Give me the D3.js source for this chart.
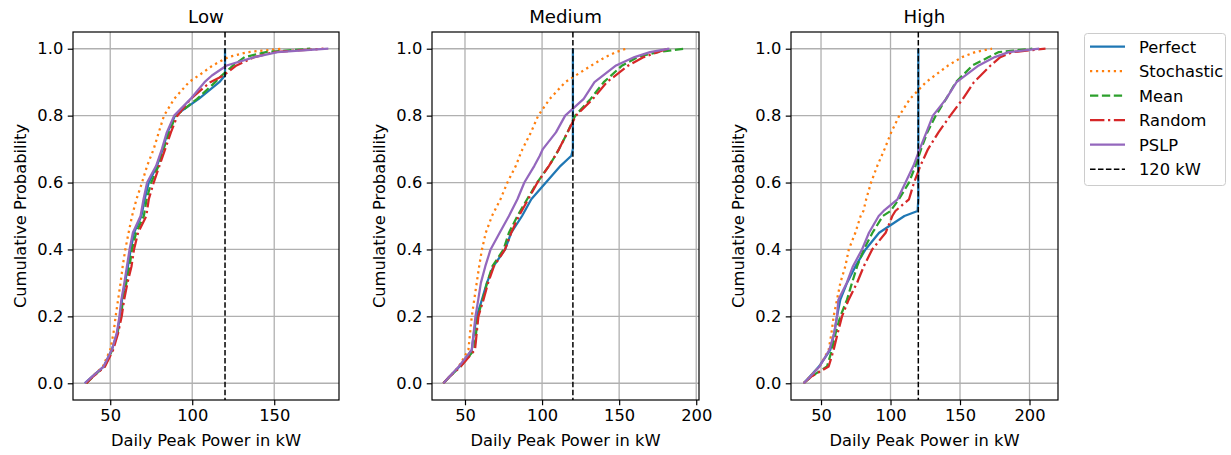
<!DOCTYPE html>
<html>
<head>
<meta charset="utf-8">
<script src="https://cdn.jsdelivr.net/npm/d3@7"></script>
<style>
  body { margin: 0; background: #fff; }
  svg { font-family: "DejaVu Sans", sans-serif; }
</style>
</head>
<body>
<svg id="chart" width="1231" height="455"></svg>
<script>
// cumulative probability levels at which the curves were read (one per panel)
var lowLevels    = [0, 0.02, 0.05, 0.1, 0.15, 0.2, 0.25, 0.3, 0.35, 0.4, 0.45, 0.5, 0.55, 0.6, 0.65, 0.7, 0.75, 0.8, 0.85, 0.9, 0.92, 0.95, 0.975, 0.99, 1];
var mediumLevels = [0, 0.02, 0.05, 0.1, 0.15, 0.2, 0.25, 0.3, 0.35, 0.4, 0.45, 0.5, 0.55, 0.6, 0.65, 0.68, 0.7, 0.75, 0.8, 0.85, 0.9, 0.95, 0.975, 0.99, 1];
var highLevels   = [0, 0.02, 0.05, 0.1, 0.15, 0.2, 0.25, 0.3, 0.35, 0.4, 0.45, 0.5, 0.515, 0.55, 0.6, 0.65, 0.7, 0.75, 0.8, 0.85, 0.9, 0.95, 0.975, 0.99, 1];

// daily peak power (kW) at those levels
var lowPerfect    = [34.5, 39, 46, 51, 54.2, 56, 57.2, 59, 60.8, 62.5, 64.5, 69, 71, 73.5, 78.5, 82, 85, 89.5, 104, 116.5, 120, 120, 120, 120, 120];
var lowStochastic = [35, 39, 45.5, 50, 52, 53.3, 54.8, 56.3, 57.6, 59.2, 61.2, 63.3, 66, 69.4, 72.5, 76.5, 79.6, 82.8, 89, 98, 104, 112.5, 122, 134, 155];
var lowMean       = [35.5, 39.5, 46.5, 51.3, 54.4, 56.5, 57.8, 59.8, 61.8, 63.3, 65.8, 70.5, 72.2, 75, 79.5, 82.5, 86, 90, 103, 114, 118, 125, 132, 145, 172];
var lowRandom     = [35.5, 39.5, 46.8, 51.8, 54.8, 57, 58.5, 60.5, 63, 64.5, 67, 72, 73.5, 76.5, 80, 83.5, 87, 91, 99, 111, 119, 127, 138, 150, 180];
var lowPSLP       = [34.5, 39, 46, 51, 54, 55.6, 56.8, 58.6, 60.2, 61.8, 63.8, 68.5, 70.3, 72.5, 78, 81.5, 84.5, 89, 99, 107.5, 112, 121, 138, 152, 183];

var mediumPerfect    = [36, 40, 46.5, 54.4, 55.8, 57.6, 61, 64.2, 68.5, 76, 80, 87, 93, 102.5, 112, 119, 120, 120, 120, 120, 120, 120, 120, 120, 120];
var mediumStochastic = [36, 40, 46, 52.2, 53.3, 54.4, 56, 57.6, 59.2, 61, 63.5, 67.5, 73, 77.5, 83, 85.5, 87.3, 92.8, 97.5, 105, 115, 132, 141, 148, 154.4];
var mediumMean       = [36, 40, 47, 56, 57.2, 58.3, 61.5, 64.3, 67.8, 75, 78.5, 84, 90.3, 96.8, 104.5, 108.5, 111, 116.5, 121.5, 131.5, 140, 152, 162, 175, 192.5];
var mediumRandom     = [36, 40, 47.2, 56.5, 57.6, 58.7, 62, 65, 68.8, 76, 80, 85, 91, 97, 104.5, 108.5, 111, 116.5, 122, 133, 142, 156, 166, 175, 181.6];
var mediumPSLP       = [36, 40, 46, 54.4, 55.6, 56.8, 58.6, 60.3, 63.2, 66.6, 72.5, 78.5, 84, 88.5, 95, 98.5, 100.5, 109, 115, 127, 134, 148, 160, 170, 182.6];

var highPerfect    = [37.5, 42, 48.5, 56.7, 59.5, 61.5, 63.9, 68.7, 74.8, 82, 91.8, 110, 119.5, 120, 120, 120, 120, 120, 120, 120, 120, 120, 120, 120, 120];
var highStochastic = [37.5, 42, 49, 55.5, 57.5, 59.1, 61.5, 63.9, 67.5, 70, 74.7, 78.5, 80.5, 82.5, 86, 90.5, 95.7, 100.5, 106.3, 114, 125.5, 141.5, 151.5, 161, 173];
var highMean       = [37.5, 43, 54.3, 57.9, 60.5, 63.9, 68.7, 72.3, 76, 80.8, 87, 94.5, 100, 106, 113.3, 118, 122, 126.5, 132.5, 140, 147, 159, 170.7, 178, 202];
var highRandom     = [37.5, 43, 55.5, 59.1, 62, 65.1, 69.9, 75.9, 80.8, 86.8, 96.5, 101.3, 103.5, 113.3, 116.9, 121.5, 127, 134.5, 143, 152, 160, 172, 179, 188, 211.5];
var highPSLP       = [37.5, 42.3, 49, 56, 59.5, 61.5, 62.5, 68.5, 73, 79.5, 84.5, 91.5, 95, 105, 110.8, 116.5, 121, 125.8, 130.5, 140, 147.5, 163.5, 175, 185, 207];

var panelTitles = ["Low", "Medium", "High"];
var seriesNames = ["Perfect", "Stochastic", "Mean", "Random", "PSLP"];
var limitKW = 120;
var xTicksLow = [50, 100, 150];
var xTicksWide = [50, 100, 150, 200];
var yTicks = [0, 0.2, 0.4, 0.6, 0.8, 1.0];

var colors = ["#1f77b4", "#ff7f0e", "#2ca02c", "#d62728", "#9467bd"];
var dashes = [null, "2.25,3.7", "8.3,3.6", "14.4,3.6,2.25,3.6", null];

var panels = [
  {title: panelTitles[0], levels: lowLevels, data: [lowPerfect, lowStochastic, lowMean, lowRandom, lowPSLP],
   left: 73, right: 339, domain: [27.3, 189.5], ticks: xTicksLow},
  {title: panelTitles[1], levels: mediumLevels, data: [mediumPerfect, mediumStochastic, mediumMean, mediumRandom, mediumPSLP],
   left: 432, right: 699, domain: [28.6, 201.8], ticks: xTicksWide},
  {title: panelTitles[2], levels: highLevels, data: [highPerfect, highStochastic, highMean, highRandom, highPSLP],
   left: 791, right: 1058, domain: [28.4, 220.5], ticks: xTicksWide}
];

var plotTop = 32, plotBottom = 400;
var fs = 16.3;
var svg = d3.select("#chart");

var y = d3.scaleLinear().domain([-0.05, 1.05]).range([plotBottom, plotTop]);

panels.forEach(function (p, k) {
  var x = d3.scaleLinear().domain(p.domain).range([p.left, p.right]);
  var g = svg.append("g");
  var clipId = "clip" + k;
  g.append("clipPath").attr("id", clipId)
    .append("rect")
    .attr("x", p.left).attr("y", plotTop)
    .attr("width", p.right - p.left).attr("height", plotBottom - plotTop);

  // grid
  g.append("g").selectAll("line").data(p.ticks).enter().append("line")
    .attr("x1", function (d) { return x(d); }).attr("x2", function (d) { return x(d); })
    .attr("y1", plotTop).attr("y2", plotBottom)
    .attr("stroke", "#b0b0b0").attr("stroke-width", 1.3);
  g.append("g").selectAll("line").data(yTicks).enter().append("line")
    .attr("y1", function (d) { return y(d); }).attr("y2", function (d) { return y(d); })
    .attr("x1", p.left).attr("x2", p.right)
    .attr("stroke", "#b0b0b0").attr("stroke-width", 1.3);

  // curves
  var line = d3.line()
    .x(function (d) { return x(d[0]); })
    .y(function (d) { return y(d[1]); });
  var lines = g.append("g").attr("clip-path", "url(#" + clipId + ")");
  p.data.forEach(function (vals, i) {
    var pts = vals.map(function (v, j) { return [v, p.levels[j]]; });
    lines.append("path")
      .datum(pts)
      .attr("d", line)
      .attr("fill", "none")
      .attr("stroke", colors[i])
      .attr("stroke-width", 2.25)
      .attr("stroke-linejoin", "round")
      .attr("stroke-dasharray", dashes[i]);
  });
  lines.append("line")
    .attr("x1", x(limitKW)).attr("x2", x(limitKW))
    .attr("y1", plotTop).attr("y2", plotBottom)
    .attr("stroke", "#000").attr("stroke-width", 1.5)
    .attr("stroke-dasharray", "5.55,2.4");

  // axes
  var xAxis = d3.axisBottom(x).tickValues(p.ticks).tickSize(5.25).tickPadding(4.5)
    .tickFormat(d3.format("d"));
  var gx = g.append("g").attr("transform", "translate(0," + plotBottom + ")").call(xAxis);
  var yAxis = d3.axisLeft(y).tickValues(yTicks).tickSize(5.25).tickPadding(4.5)
    .tickFormat(d3.format(".1f"));
  var gy = g.append("g").attr("transform", "translate(" + p.left + ",0)").call(yAxis);
  [gx, gy].forEach(function (a) {
    a.select(".domain").remove();
    a.selectAll(".tick line").attr("stroke", "#000").attr("stroke-width", 1.2);
    a.selectAll(".tick text").attr("fill", "#000").style("font-size", fs + "px")
      .style("font-family", "DejaVu Sans");
  });

  // spines
  g.append("rect")
    .attr("x", p.left).attr("y", plotTop)
    .attr("width", p.right - p.left).attr("height", plotBottom - plotTop)
    .attr("fill", "none").attr("stroke", "#000").attr("stroke-width", 1.2);

  // labels
  g.append("text")
    .attr("x", (p.left + p.right) / 2).attr("y", 23)
    .attr("text-anchor", "middle")
    .style("font-size", "18.2px")
    .text(p.title);
  g.append("text")
    .attr("x", (p.left + p.right) / 2).attr("y", 446)
    .attr("text-anchor", "middle")
    .style("font-size", fs + "px")
    .text("Daily Peak Power in kW");
  g.append("text")
    .attr("transform", "translate(" + (p.left - 47) + "," + ((plotTop + plotBottom) / 2) + ") rotate(-90)")
    .attr("text-anchor", "middle")
    .style("font-size", fs + "px")
    .text("Cumulative Probability");
});

// legend
var leg = svg.append("g");
leg.append("rect")
  .attr("x", 1084.5).attr("y", 33.5).attr("width", 141).attr("height", 152)
  .attr("rx", 3).attr("ry", 3)
  .attr("fill", "#fff").attr("fill-opacity", 0.8)
  .attr("stroke", "#cccccc").attr("stroke-width", 1);
var legNames = seriesNames.concat([limitKW + " kW"]);
legNames.forEach(function (name, i) {
  var ly = 46.7 + i * 24.5;
  var isLimit = i === seriesNames.length;
  leg.append("line")
    .attr("x1", 1090).attr("x2", 1125)
    .attr("y1", ly).attr("y2", ly)
    .attr("stroke", isLimit ? "#000" : colors[i])
    .attr("stroke-width", isLimit ? 1.5 : 2.25)
    .attr("stroke-dasharray", isLimit ? "5.55,2.4" : dashes[i]);
  leg.append("text")
    .attr("x", 1139).attr("y", ly + 5.8)
    .style("font-size", fs + "px")
    .text(name);
});
</script>
</body>
</html>
